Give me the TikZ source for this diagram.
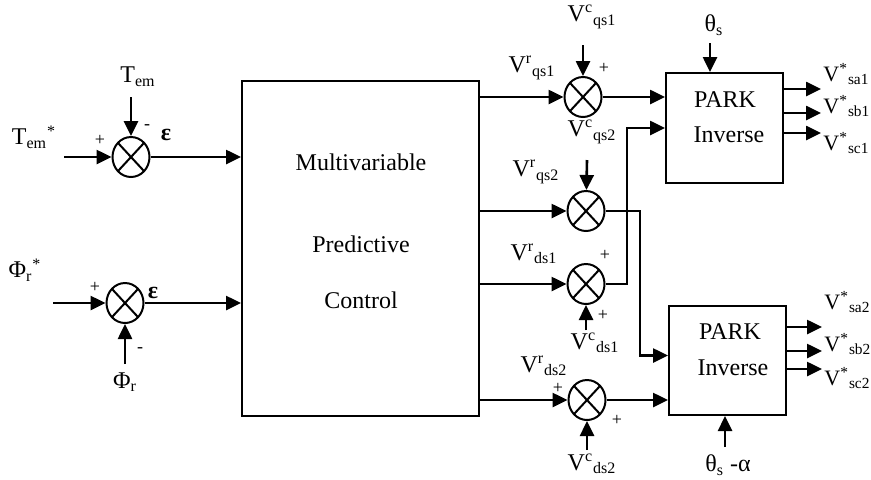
\documentclass[tikz,border=0pt]{standalone}
\usepackage{fontspec}
\setmainfont{Liberation Serif}
\usetikzlibrary{shapes.geometric, arrows.meta, positioning, calc}

\begin{document}
\begin{tikzpicture}[x=0.5pt, y=-0.5pt,
    font=\fontsize{12}{14}\selectfont,
    sumnode/.style={draw, line width=1pt, ellipse, minimum width=18.5pt, minimum height=20pt, inner sep=0pt,
        path picture={\draw[line width=1pt] (path picture bounding box.north west) -- (path picture bounding box.south east)
            (path picture bounding box.north east) -- (path picture bounding box.south west);}},
    blockbox/.style={draw, line width=1pt, rectangle, inner sep=0pt},
    arr/.style={line width=1.3pt, -{Triangle[length=7.5pt, width=7pt]}},
    sign/.style={font=\fontsize{9}{10}\selectfont, inner sep=0pt},
    outlabel/.style={anchor=west, inner sep=0pt, font=\fontsize{11}{13}\selectfont}]
    \useasboundingbox (0,0) rectangle (871,479);

    % Blocks
    \node[blockbox, minimum width=118.5pt, minimum height=167.5pt] (mpc) at (360.5,248.5) {};
    \node (mpc1) at (361,162) {Multivariable};
    \node (mpc2) at (361,244) {Predictive};
    \node (mpc3) at (361,300) {Control};

    \node[blockbox, minimum width=58.5pt, minimum height=55pt] (park1) at (724.5,128) {};
    \node (park1a) at (725,100) {PARK};
    \node (park1b) at (729,135) {Inverse};

    \node[blockbox, minimum width=58.5pt, minimum height=54.5pt] (park2) at (727.5,360.5) {};
    \node (park2a) at (730,332) {PARK};
    \node (park2b) at (733,368) {Inverse};

    % Summing junctions
    \node[sumnode] (sumT) at (131,157) {};
    \node[sumnode] (sumP) at (125,303) {};
    \node[sumnode] (sumQ1) at (583,97) {};
    \node[sumnode] (sumQ2) at (586,211) {};
    \node[sumnode] (sumD1) at (586,284) {};
    \node[sumnode] (sumD2) at (587,400) {};

    % Free ends
    \coordinate (inT) at (64,157);
    \coordinate (inP) at (53,303);
    \coordinate (topT) at (131,97);
    \coordinate (botP) at (125,364);
    \coordinate (topQ1) at (583,45);
    \coordinate (topQ2) at (587,160);
    \coordinate (botD1) at (586,330);
    \coordinate (botD2) at (587,450);
    \coordinate (topPk1) at (710,43);
    \coordinate (botPk2) at (725,447);

    % Left side
    \draw[arr] (inT) -- (sumT);
    \draw[arr] (topT) -- (sumT);
    \draw[arr] (sumT) -- (sumT -| mpc.west);
    \draw[arr] (inP) -- (sumP);
    \draw[arr] (botP) -- (sumP);
    \draw[arr] (sumP) -- (sumP -| mpc.west);

    \node (lTemref) at (34,137) {T\textsubscript{em}\textsuperscript{*}};
    \node (lTem) at (138,77) {T\textsubscript{em}};
    \node[sign] (sT1) at (100,140) {+};
    \node[sign] (sT2) at (147,127) {-};
    \node (eT) at (166,135) {\textbf{ε}};
    \node (lPhiref) at (25,270) {Φ\textsubscript{r}\textsuperscript{*}};
    \node[sign] (sP1) at (95,287) {+};
    \node[sign] (sP2) at (140,350) {-};
    \node (eP) at (153,293) {\textbf{ε}};
    \node (lPhi) at (125,382) {Φ\textsubscript{r}};

    % Controller outputs
    \draw[arr] (mpc.east |- sumQ1) -- (sumQ1);
    \draw[arr] (mpc.east |- sumQ2) -- (sumQ2);
    \draw[arr] (mpc.east |- sumD1) -- (sumD1);
    \draw[arr] (mpc.east |- sumD2) -- (sumD2);
    \draw[arr] (topQ1) -- (sumQ1);
    \draw[arr] (topQ2) -- (sumQ2);
    \draw[arr] (botD1) -- (sumD1);
    \draw[arr] (botD2) -- (sumD2);

    % To the PARK blocks
    \draw[arr] (sumQ1) -- (sumQ1 -| park1.west);
    \draw[arr] (sumD1) -- ++(41,0) |- (park1.west);
    \draw[arr] (sumQ2) -- ++(54,0) |- ($(park2.west)+(0,-5)$);
    \draw[arr] (sumD2) -- (sumD2 -| park2.west);
    \draw[arr] (topPk1) -- (topPk1 |- park1.north);
    \draw[arr] (botPk2) -- (botPk2 |- park2.south);

    \node (lVcq1) at (592,17) {V\textsuperscript{c}\textsubscript{qs1}};
    \node (lVrq1) at (532,68) {V\textsuperscript{r}\textsubscript{qs1}};
    \node[sign] (sQ1) at (604,68) {+};
    \node (lVcq2) at (592,132) {V\textsuperscript{c}\textsubscript{qs2}};
    \node (lVrq2) at (536,172) {V\textsuperscript{r}\textsubscript{qs2}};
    \node (lVrd1) at (534,254) {V\textsuperscript{r}\textsubscript{ds1}};
    \node[sign] (sD1a) at (605,255) {+};
    \node[sign] (sD1b) at (603,315) {+};
    \node (lVcd1) at (595,343) {V\textsuperscript{c}\textsubscript{ds1}};
    \node (lVrd2) at (544,366) {V\textsuperscript{r}\textsubscript{ds2}};
    \node[sign] (sD2a) at (558,388) {+};
    \node[sign] (sD2b) at (617,420) {+};
    \node (lVcd2) at (592,464) {V\textsuperscript{c}\textsubscript{ds2}};
    \node (lth1) at (714,25) {θ\textsubscript{s}};
    \node (lth2) at (728,465) {θ\textsubscript{s} -α};

    % Outputs
    \foreach \yy/\ly/\ph in {89/74/a, 113/106/b, 133/143/c} {
        \coordinate (o1\ph) at (821,\yy);
        \draw[arr] (park1.east |- o1\ph) -- (o1\ph);
        \node[outlabel] (v1\ph) at (823,\ly) {V\textsuperscript{*}\textsubscript{s\ph1}};
    }
    \foreach \yy/\ly/\ph in {327/302/a, 351/344/b, 369/378/c} {
        \coordinate (o2\ph) at (822,\yy);
        \draw[arr] (park2.east |- o2\ph) -- (o2\ph);
        \node[outlabel] (v2\ph) at (824,\ly) {V\textsuperscript{*}\textsubscript{s\ph2}};
    }

\end{tikzpicture}
\end{document}
